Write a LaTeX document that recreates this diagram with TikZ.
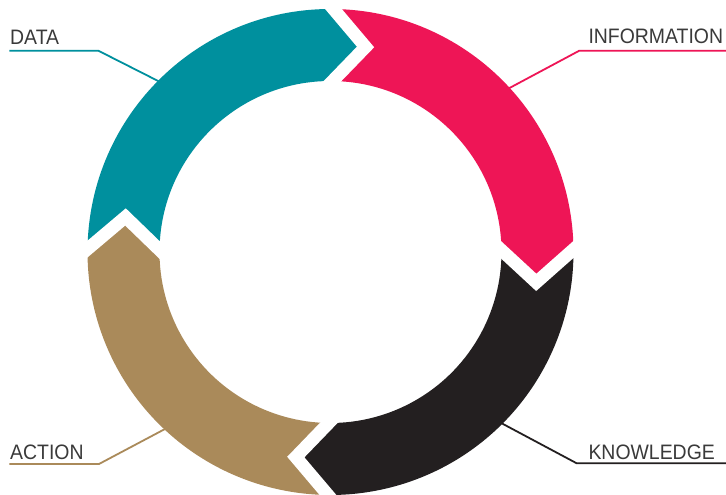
\documentclass[tikz,border=0pt]{standalone}
\usepackage{fontspec}
\setmainfont{Liberation Sans}[FakeStretch=0.93]
\usetikzlibrary{calc}

\definecolor{dataTeal}{RGB}{0,144,158}
\definecolor{infoPink}{RGB}{238,21,86}
\definecolor{knowBlack}{RGB}{35,31,32}
\definecolor{actGold}{RGB}{170,138,90}
\definecolor{labelGray}{RGB}{58,58,58}

% one coloured ring piece: colour, start angle, end angle (running clockwise)
\newcommand\RingSegment[3]{%
  \pgfmathsetmacro\segA{#2}\pgfmathsetmacro\segB{#3}%
  \pgfmathsetmacro\segAh{#2-9}\pgfmathsetmacro\segBh{#3-9}%
  \fill[#1] (\segA:243pt) arc[start angle=\segA, end angle=\segB, radius=243pt]
     -- (\segBh:208pt) -- (\segB:171pt)
     arc[start angle=\segB, end angle=\segA, radius=171pt]
     -- (\segAh:208pt) -- cycle;
}

% white chevron gap between two pieces: name, angle
\newcommand\RingCut[2]{%
  \pgfmathsetmacro\cutT{#2-9}%
  \coordinate (#1-o) at (#2:243pt);
  \coordinate (#1-t) at (\cutT:208pt);
  \coordinate (#1-i) at (#2:171pt);
  \draw[gapline] ($(#1-t)!1.6!(#1-o)$) -- (#1-t) -- ($(#1-t)!1.6!(#1-i)$);
}

\tikzset{
  gapline/.style={draw=white, line width=12.8pt, line join=miter, miter limit=10},
  leader/.style={line width=1.8pt, line join=miter},
  tag/.style={inner sep=0pt, text=labelGray, font=\fontsize{20.9}{24}\selectfont},
}

\begin{document}
\begin{tikzpicture}[x=1pt, y=1pt]
  \fill[white] (0,0) rectangle (726,495);
  \useasboundingbox (0,0) rectangle (726,495);

  % the cycle ring
  \begin{scope}[shift={(330.5,243)}]
    \RingSegment{dataTeal}{179.3}{89.3}
    \RingSegment{infoPink}{89.3}{0.6}
    \RingSegment{knowBlack}{0.6}{-90.6}
    \RingSegment{actGold}{-90.6}{-180.7}
    \RingCut{cutTop}{89.3}
    \RingCut{cutRight}{0.6}
    \RingCut{cutBottom}{-90.6}
    \RingCut{cutLeft}{179.3}
  \end{scope}

  % labels
  \node[tag, anchor=base west] (data) at (10,450) {DATA};
  \node[tag, anchor=base west] (info) at (588.3,451.7) {INFORMATION};
  \node[tag, anchor=base west] (action) at (10,35.7) {ACTION};
  \node[tag, anchor=base west] (know) at (588.3,35.7) {KNOWLEDGE};

  % leader lines
  \coordinate (dataStart) at (9.3,444.3);
  \coordinate (dataKnee) at (98.3,444.3);
  \coordinate (dataEnd) at (168,409);
  \coordinate (infoStart) at (726,444.3);
  \coordinate (infoKnee) at (579.3,444.3);
  \coordinate (infoEnd) at (498.3,401);
  \coordinate (actionStart) at (9.3,31);
  \coordinate (actionKnee) at (99,31);
  \coordinate (actionEnd) at (165,66);
  \coordinate (knowStart) at (726,31.7);
  \coordinate (knowKnee) at (576.7,31.7);
  \coordinate (knowEnd) at (501.7,71.7);

  \draw[leader, dataTeal] (dataStart) -- (dataKnee) -- (dataEnd);
  \draw[leader, infoPink] (infoStart) -- (infoKnee) -- (infoEnd);
  \draw[leader, actGold] (actionStart) -- (actionKnee) -- (actionEnd);
  \draw[leader, knowBlack] (knowStart) -- (knowKnee) -- (knowEnd);
\end{tikzpicture}
\end{document}
